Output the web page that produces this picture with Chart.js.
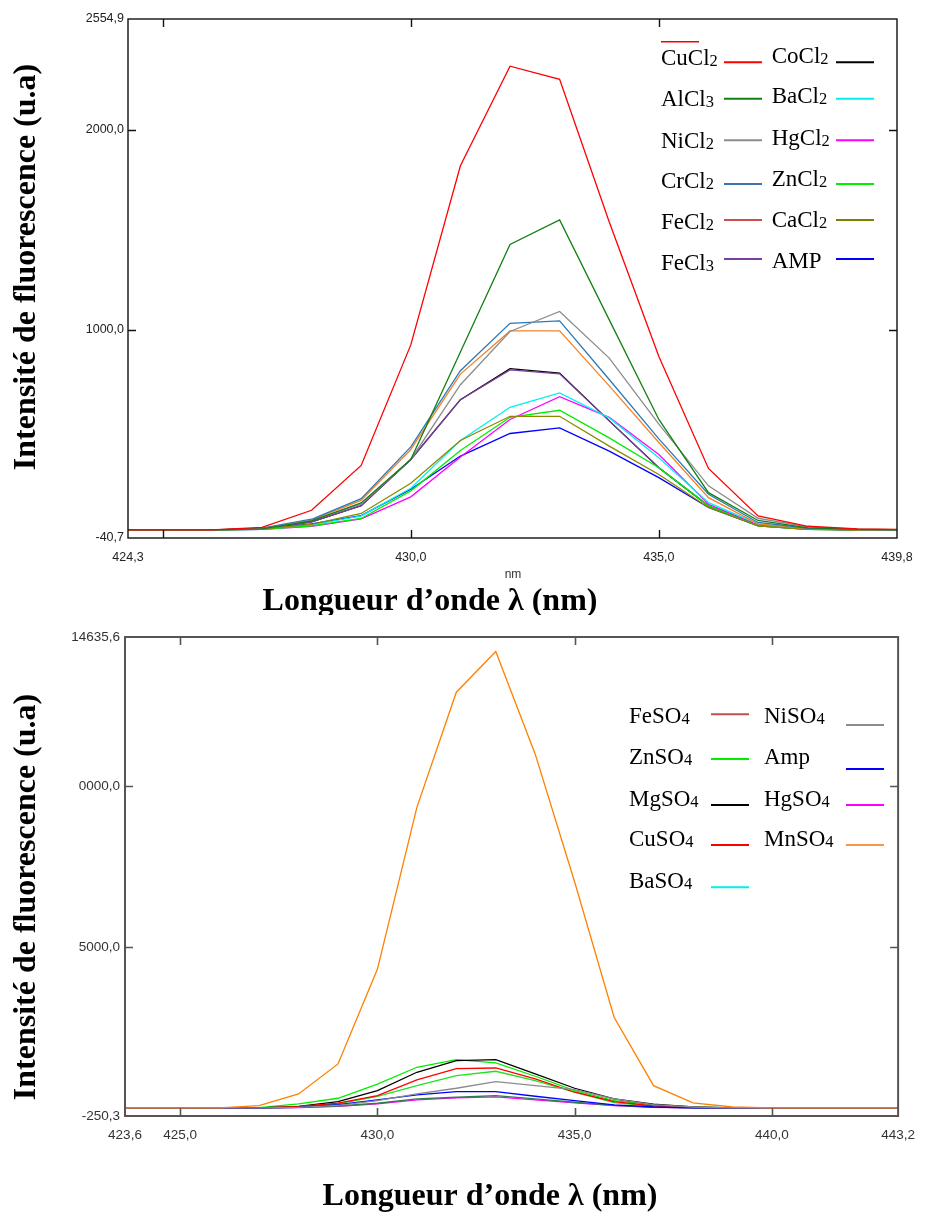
<!DOCTYPE html>
<html><head><meta charset="utf-8">
<script src="https://cdn.jsdelivr.net/npm/chart.js@4.4.1/dist/chart.umd.min.js"></script>
<style>
html,body{margin:0;padding:0;background:#fff;}
#c1{position:absolute;left:0;top:0;}
#c2{position:absolute;left:0;top:615px;}
</style></head><body>
<canvas id="c1" width="926" height="615"></canvas>
<canvas id="c2" width="926" height="597"></canvas>
<script>
// ---------- DATA: chart 1 (chlorides) ----------
const wavelengths1 = [424,425,426,427,428,429,430,431,432,433,434,435,436,437,438,439,440];
const CuCl2 = [0,0,0,12,98,322,925,1821,2319,2253,1540,867,307,70,18,5,2];
const AlCl3 = [0,0,0,5,45,135,352,890,1427,1550,1050,552,186,47,10,2,0];
const NiCl2 = [0,0,0,5,48,128,352,726,992,1092,859,529,220,58,15,3,0];
const CrCl2 = [0,0,0,8,53,156,415,796,1033,1045,752,455,178,37,8,2,0];
const FeCl2 = [0,0,0,7,50,147,402,779,995,995,720,437,161,30,6,1,0];
const CaCl2 = [0,0,0,4,28,82,233,447,568,568,419,277,112,20,3,0,0];
const ZnCl2 = [0,0,0,2,20,57,195,397,563,598,460,311,120,20,3,0,0];
const BaCl2 = [0,0,0,3,25,70,208,447,613,685,560,361,136,30,5,0,0];
const HgCl2 = [0,0,0,2,18,55,165,364,552,666,563,377,128,25,5,0,0];
const AMP1  = [0,0,0,3,30,71,203,369,482,510,394,261,112,20,3,0,0];
const FeCl3 = [0,0,0,5,40,121,352,651,800,780,545,311,120,25,5,0,0];
const CoCl2 = [0,0,0,5,40,121,352,651,806,784,545,311,120,25,5,0,0];
const series1 = [CuCl2, AlCl3, NiCl2, CrCl2, FeCl2, CaCl2, ZnCl2, BaCl2, HgCl2, AMP1, FeCl3, CoCl2];
const names1  = ['CuCl2','AlCl3','NiCl2','CrCl2','FeCl2','CaCl2','ZnCl2','BaCl2','HgCl2','AMP','FeCl3','CoCl2'];
const colors1 = ['#ff0000','#138013','#8c8c8c','#2a7ab8','#f5822a','#8a8a00','#00ee00','#00f0f0','#ff00ff','#0000ff','#7a3fa0','#000000'];
const xTicks1 = [424.3, 425, 430, 435, 439.8];
const xTickLabels1 = ['424,3', '', '430,0', '435,0', '439,8'];
const yTicks1 = [-40.7, 1000, 2000, 2554.9];
const yTickLabels1 = ['-40,7', '1000,0', '2000,0', '2554,9'];
const legendCol1a = ['CuCl2','AlCl3','NiCl2','CrCl2','FeCl2','FeCl3'];
const legendCol1aColors = ['#ff0000','#138013','#8c8c8c','#3d74b0','#c8504d','#7a3fa0'];
const legendCol1b = ['CoCl2','BaCl2','HgCl2','ZnCl2','CaCl2','AMP'];
const legendCol1bColors = ['#000000','#00f0f0','#ff00ff','#00ee00','#808000','#0000ff'];

// ---------- DATA: chart 2 (sulfates) ----------
const wavelengths2 = [423,424,425,426,427,428,429,430,431,432,433,434,435,436,437,438,439,440,441,442,443,444];
const MnSO4 = [0,0,0,0,71,435,1367,4317,9340,12920,14185,10995,7020,2817,693,155,30,0,0,0,0,0];
const NiSO4 = [0,0,0,0,3,20,80,227,435,612,817,693,568,280,103,30,5,0,0,0,0,0];
const AmpSO = [0,0,0,0,2,20,100,248,404,506,506,363,227,93,30,5,0,0,0,0,0,0];
const FeSO4 = [0,0,0,0,2,15,60,146,280,332,382,280,177,80,25,5,0,0,0,0,0,0];
const HgSO4 = [0,0,0,0,1,10,50,124,248,311,342,248,155,71,20,3,0,0,0,0,0,0];
const CuSO4 = [0,0,0,0,3,40,150,382,870,1221,1242,901,488,196,60,15,2,0,0,0,0,0];
const BaSO4 = [0,0,0,0,3,30,130,363,693,1003,1140,848,488,165,50,10,2,0,0,0,0,0];
const MgSO4 = [0,0,0,0,5,50,196,537,1109,1470,1500,1056,612,280,115,35,5,0,0,0,0,0];
const ZnSO4 = [0,0,0,0,10,124,301,740,1264,1500,1398,985,537,227,93,30,5,0,0,0,0,0];
const series2 = [MnSO4, NiSO4, AmpSO, FeSO4, HgSO4, CuSO4, BaSO4, MgSO4, ZnSO4];
const names2  = ['MnSO4','NiSO4','Amp','FeSO4','HgSO4','CuSO4','BaSO4','MgSO4','ZnSO4'];
const colors2 = ['#ff8000','#8c8c8c','#0000ff','#2e7d4f','#ff00ff','#ff0000','#22e022','#000000','#00ee00'];
const xTicks2 = [423.6, 425, 430, 435, 440, 443.2];
const xTickLabels2 = ['423,6','425,0','430,0','435,0','440,0','443,2'];
const yTicks2 = [-250.3, 5000, 10000, 14635.6];
const yTickLabels2 = ['-250,3','5000,0','0000,0','14635,6'];
const legendCol2a = ['FeSO4','ZnSO4','MgSO4','CuSO4','BaSO4'];
const legendCol2aColors = ['#c0504d','#00ee00','#000000','#ff0000','#00f0f0'];
const legendCol2b = ['NiSO4','Amp','HgSO4','MnSO4'];
const legendCol2bColors = ['#8c8c8c','#0000ff','#ff00ff','#f79646'];

const yTitle = 'Intensité de fluorescence (u.a)';
const xTitle = 'Longueur d’onde λ (nm)';

// ---------- helpers ----------
function buildDatasets(wl, series, names, colors) {
  return series.map((s, i) => ({
    label: names[i],
    data: s.map((v, j) => ({x: wl[j], y: v})),
    borderColor: colors[i],
    backgroundColor: colors[i],
    borderWidth: 1.3,
    pointRadius: 0,
    tension: 0,
    fill: false
  }));
}

const mainFont = '23px "Liberation Serif", "Times New Roman", serif';
const subFont = '16.5px "Liberation Serif", "Times New Roman", serif';
function drawFormula(ctx, text, x, y) {
  // chemical formula: trailing digits drawn as subscript
  const m = text.match(/^(.*?)(\d*)$/);
  ctx.font = mainFont;
  ctx.fillText(m[1], x, y);
  if (m[2]) {
    const w = ctx.measureText(m[1]).width;
    ctx.font = subFont;
    ctx.fillText(m[2], x + w, y + 1);
  }
}

const decorPlugin = {
  id: 'decor',
  afterDatasetsDraw(chart, args, o) {
    const ctx = chart.ctx, a = chart.chartArea, x = chart.scales.x, y = chart.scales.y;
    ctx.save();
    ctx.strokeStyle = o.frameColor; ctx.lineWidth = o.frameWidth;
    ctx.strokeRect(a.left, a.top, a.right - a.left, a.bottom - a.top);
    ctx.beginPath();
    o.xMarks.forEach(v => {
      const px = Math.round(x.getPixelForValue(v)) + 0.5;
      ctx.moveTo(px, a.bottom); ctx.lineTo(px, a.bottom - o.tickLen);
      ctx.moveTo(px, a.top); ctx.lineTo(px, a.top + o.tickLen);
    });
    o.yMarks.forEach(v => {
      const py = Math.round(y.getPixelForValue(v)) + 0.5;
      ctx.moveTo(a.left, py); ctx.lineTo(a.left + o.tickLen, py);
      ctx.moveTo(a.right, py); ctx.lineTo(a.right - o.tickLen, py);
    });
    ctx.lineWidth = o.tickWidth; ctx.stroke();
    ctx.fillStyle = '#000';
    ctx.font = 'bold 32px "Liberation Serif", "Times New Roman", serif';
    ctx.textAlign = 'center'; ctx.textBaseline = 'alphabetic';
    ctx.fillText(xTitle, o.xTitleX, o.xTitleY);
    ctx.save();
    ctx.translate(o.yTitleX, o.yTitleY); ctx.rotate(-Math.PI / 2);
    ctx.fillText(yTitle, 0, 0);
    ctx.restore();
    if (o.unit) {
      ctx.font = '12px "Liberation Sans", Arial, sans-serif';
      ctx.fillStyle = '#333';
      ctx.textBaseline = 'middle';
      ctx.fillText(o.unit.text, o.unit.x, o.unit.y);
    }
    ctx.textAlign = 'left'; ctx.textBaseline = 'alphabetic';
    o.legend.forEach(col => {
      col.labels.forEach((lab, i) => {
        ctx.fillStyle = '#000';
        drawFormula(ctx, lab, col.textX, col.baselines[i]);
        ctx.strokeStyle = col.colors[i]; ctx.lineWidth = 2;
        ctx.beginPath();
        ctx.moveTo(col.lineX[0], col.lineY[i]); ctx.lineTo(col.lineX[1], col.lineY[i]);
        ctx.stroke();
      });
    });
    if (o.extraLine) {
      ctx.strokeStyle = o.extraLine.color; ctx.lineWidth = 1.5;
      ctx.beginPath(); ctx.moveTo(o.extraLine.x1, o.extraLine.y); ctx.lineTo(o.extraLine.x2, o.extraLine.y); ctx.stroke();
    }
    ctx.restore();
  }
};

function makeChart(id, cfg) {
  return new Chart(document.getElementById(id), {
    type: 'line',
    data: { datasets: buildDatasets(cfg.wl, cfg.series, cfg.names, cfg.colors) },
    options: {
      responsive: false, animation: false, devicePixelRatio: 1,
      layout: { padding: cfg.padding },
      plugins: { legend: { display: false }, tooltip: { enabled: false }, decor: cfg.decor },
      scales: {
        x: {
          type: 'linear', min: cfg.xMin, max: cfg.xMax,
          grid: { display: false, drawTicks: false }, border: { display: false },
          afterBuildTicks: s => { s.ticks = cfg.xTicks.map(v => ({value: v})); },
          afterFit: s => { s.height = cfg.xHeight; },
          ticks: {
            autoSkip: false, maxRotation: 0, minRotation: 0, padding: cfg.xPad,
            color: cfg.tickColor, font: { family: '"Liberation Sans", Arial, sans-serif', size: cfg.tickSize },
            callback: (v, i) => cfg.xLabels[i]
          }
        },
        y: {
          type: 'linear', min: cfg.yMin, max: cfg.yMax,
          grid: { display: false, drawTicks: false }, border: { display: false },
          afterBuildTicks: s => { s.ticks = cfg.yTicks.map(v => ({value: v})); },
          afterFit: s => { s.width = cfg.yWidth; },
          ticks: {
            autoSkip: false, padding: cfg.yPad,
            color: cfg.tickColor, font: { family: '"Liberation Sans", Arial, sans-serif', size: cfg.tickSize },
            callback: (v, i) => cfg.yLabels[i]
          }
        }
      }
    },
    plugins: [decorPlugin]
  });
}

makeChart('c1', {
  wl: wavelengths1, series: series1, names: names1, colors: colors1,
  xMin: 424.3, xMax: 439.8, yMin: -40.7, yMax: 2554.9,
  xTicks: xTicks1, xLabels: xTickLabels1, yTicks: yTicks1, yLabels: yTickLabels1,
  padding: { left: 0, right: 29, top: 19, bottom: 0 }, yWidth: 128, xHeight: 77,
  xPad: 12, yPad: 4, tickColor: '#222', tickSize: 12.5,
  decor: {
    frameColor: '#111', frameWidth: 1.4, tickLen: 8, tickWidth: 1.4,
    xMarks: [425, 430, 435], yMarks: [1000, 2000],
    xTitleX: 430, xTitleY: 610, yTitleX: 35, yTitleY: 267,
    unit: { text: 'nm', x: 513, y: 575 },
    legend: [
      { labels: legendCol1a, colors: legendCol1aColors, textX: 661,
        baselines: [65, 106, 147.7, 188.3, 229.3, 270], lineX: [724, 762],
        lineY: [62.3, 98.7, 140.3, 184, 220, 259] },
      { labels: legendCol1b, colors: legendCol1bColors, textX: 771.7,
        baselines: [63.3, 103, 145, 186, 227, 268], lineX: [836, 874],
        lineY: [62.3, 98.7, 140.3, 184, 220, 259] }
    ],
    extraLine: { color: '#ff0000', x1: 661, x2: 699, y: 41.7 }
  }
});

makeChart('c2', {
  wl: wavelengths2, series: series2, names: names2, colors: colors2,
  xMin: 423.6, xMax: 443.2, yMin: -250.3, yMax: 14635.6,
  xTicks: xTicks2, xLabels: xTickLabels2, yTicks: yTicks2, yLabels: yTickLabels2,
  padding: { left: 0, right: 17, top: 22, bottom: 0 }, yWidth: 125, xHeight: 96,
  xPad: 11, yPad: 5, tickColor: '#333', tickSize: 13.5,
  decor: {
    frameColor: '#555', frameWidth: 2, tickLen: 8, tickWidth: 1.6,
    xMarks: [425, 430, 435, 440], yMarks: [5000, 10000],
    xTitleX: 490, xTitleY: 590, yTitleX: 35, yTitleY: 282,
    unit: null,
    legend: [
      { labels: legendCol2a, colors: legendCol2aColors, textX: 629,
        baselines: [108.3, 149.3, 191, 231, 273.3], lineX: [711, 749],
        lineY: [99.3, 144, 190, 230, 272.3] },
      { labels: legendCol2b, colors: legendCol2bColors, textX: 764,
        baselines: [108.3, 149.3, 191, 231], lineX: [846, 884],
        lineY: [110, 154, 190, 230] }
    ],
    extraLine: null
  }
});
</script>
</body></html>
